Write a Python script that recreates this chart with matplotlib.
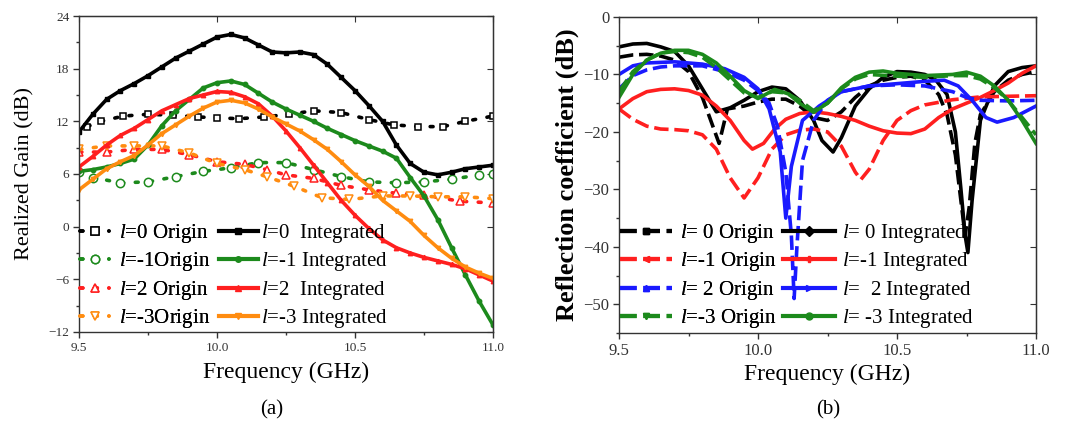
import matplotlib
matplotlib.use("Agg")
import matplotlib.pyplot as plt
from matplotlib.lines import Line2D
from matplotlib.ticker import MultipleLocator, FormatStrFormatter

plt.rcParams["font.family"] = ["Liberation Serif", "DejaVu Serif"]
plt.rcParams["mathtext.fontset"] = "custom"
plt.rcParams["mathtext.it"] = "Liberation Serif:italic"
plt.rcParams["mathtext.rm"] = "Liberation Serif"

# ---------------- (a) realized gain ----------------
f_int = [9.5, 9.55, 9.6, 9.65, 9.7, 9.75, 9.8, 9.85, 9.9, 9.95, 10.0, 10.05, 10.1, 10.15, 10.2,
         10.25, 10.3, 10.35, 10.4, 10.45, 10.5, 10.55, 10.6, 10.65, 10.7, 10.75, 10.8, 10.85,
         10.9, 10.95, 11.0]
gain_int_l0 = [10.8, 12.8, 14.5, 15.5, 16.3, 17.2, 18.2, 19.2, 20.0, 20.8, 21.6, 21.9, 21.5, 20.7,
               19.9, 19.8, 19.9, 19.6, 18.5, 17.0, 15.5, 13.8, 12.0, 9.3, 7.2, 6.2, 5.9, 6.2, 6.6,
               6.8, 7.0]
gain_int_lm1 = [6.3, 6.5, 6.8, 7.2, 7.7, 9.3, 11.5, 13.2, 14.5, 15.8, 16.4, 16.6, 16.2, 15.2, 14.2,
                13.4, 12.7, 12.0, 11.2, 10.5, 9.8, 9.2, 8.6, 7.8, 5.6, 3.5, 0.8, -2.4, -5.5, -8.5,
                -11.2]
gain_int_l2 = [6.8, 8.0, 9.3, 10.4, 11.2, 12.2, 13.2, 13.9, 14.6, 15.0, 15.4, 15.3, 14.8, 14.0, 12.6,
               10.9, 9.0, 7.0, 5.0, 3.0, 1.3, -0.2, -1.5, -2.4, -3.0, -3.5, -3.9, -4.3, -4.8, -5.5,
               -6.2]
gain_int_lm3 = [4.2, 5.4, 6.6, 7.4, 8.1, 9.3, 10.6, 11.6, 12.6, 13.5, 14.2, 14.4, 14.1, 13.4, 12.5,
                11.7, 10.9, 9.9, 8.8, 7.4, 5.9, 4.6, 3.0, 1.8, 0.6, -1.0, -2.4, -3.6, -4.6, -5.3,
                -5.9]

f_org_l0 = [9.53, 9.58, 9.66, 9.75, 9.84, 9.93, 10.0, 10.08, 10.17, 10.26, 10.35, 10.45, 10.55,
            10.64, 10.73, 10.82, 10.9, 11.0]
gain_org_l0 = [11.4, 12.0, 12.6, 12.8, 12.7, 12.5, 12.4, 12.3, 12.5, 12.8, 13.2, 13.0, 12.2, 11.6,
               11.4, 11.4, 12.0, 12.6]
f_org_lm1 = [9.5, 9.55, 9.65, 9.75, 9.85, 9.95, 10.05, 10.15, 10.25, 10.35, 10.45, 10.55, 10.65,
             10.75, 10.85, 10.95, 11.0]
gain_org_lm1 = [6.2, 5.6, 5.0, 5.1, 5.7, 6.3, 6.7, 7.3, 7.3, 6.5, 5.7, 5.1, 5.0, 5.1, 5.4, 5.9, 6.0]
f_org_l2 = [9.5, 9.6, 9.7, 9.8, 9.9, 10.0, 10.1, 10.18, 10.25, 10.35, 10.45, 10.55, 10.65, 10.75,
            10.88, 11.0]
gain_org_l2 = [8.5, 8.5, 8.8, 8.8, 8.2, 7.4, 7.1, 6.5, 5.9, 5.5, 4.7, 4.2, 3.8, 3.6, 2.9, 2.7]
f_org_lm3 = [9.5, 9.6, 9.7, 9.8, 9.9, 10.0, 10.1, 10.18, 10.28, 10.38, 10.48, 10.6, 10.7, 10.8,
             10.9, 11.0]
gain_org_lm3 = [8.8, 9.2, 9.2, 9.2, 8.4, 7.2, 6.5, 5.7, 4.6, 3.3, 3.1, 3.5, 3.5, 3.4, 3.4, 3.2]

# ---------------- (b) reflection coefficient ----------------
f_s_org_l0 = [9.5, 9.55, 9.6, 9.65, 9.7, 9.75, 9.8, 9.83, 9.86, 9.89, 9.95, 10.0, 10.05, 10.1, 10.15,
              10.2, 10.25, 10.3, 10.35, 10.4, 10.45, 10.5, 10.55, 10.6, 10.65, 10.68, 10.71, 10.73,
              10.745, 10.76, 10.78, 10.8, 10.85, 10.9, 10.95, 11.0]
s_org_l0 = [-7.0, -6.6, -6.5, -6.8, -7.5, -9.5, -14, -18, -22, -16, -15.5, -14.8, -14.3, -14.3, -15.5,
            -17.5, -18, -16.5, -14, -12, -11, -10.5, -10.3, -11, -13.5, -17, -24, -32, -38, -33, -22,
            -17, -13, -11, -10, -9.5]
f_s_int_l0 = [9.5, 9.55, 9.6, 9.65, 9.7, 9.75, 9.8, 9.85, 9.9, 9.95, 10.0, 10.05, 10.1, 10.15, 10.2,
              10.23, 10.27, 10.3, 10.35, 10.4, 10.45, 10.5, 10.55, 10.6, 10.64, 10.68, 10.71, 10.73,
              10.745, 10.755, 10.77, 10.8, 10.85, 10.9, 10.95, 11.0]
s_int_l0 = [-5.2, -4.7, -4.6, -5.2, -6.0, -8.5, -12.5, -16.5, -15.8, -14.5, -13, -12.2, -12.5, -14.5,
            -18, -21.5, -23.5, -21, -15.5, -12.5, -10.5, -9.5, -9.6, -10, -11, -13.5, -20, -30, -38,
            -41, -32, -18, -12, -9.5, -8.8, -8.5]

f_s_org_lm1 = [9.5, 9.55, 9.6, 9.65, 9.7, 9.75, 9.8, 9.85, 9.9, 9.95, 10.0, 10.05, 10.1, 10.15, 10.2,
               10.25, 10.3, 10.35, 10.37, 10.4, 10.45, 10.5, 10.55, 10.6, 10.7, 10.8, 10.9, 11.0]
s_org_lm1 = [-16, -17.8, -19, -19.5, -19.6, -19.8, -20.5, -23, -28, -31.5, -28, -23, -20.5, -19.7,
             -19.5, -20, -22.5, -27, -28.3, -26.5, -21.5, -18, -16.3, -15.3, -14.4, -13.9, -13.8,
             -13.7]
f_s_int_lm1 = [9.5, 9.55, 9.6, 9.65, 9.7, 9.75, 9.8, 9.85, 9.9, 9.95, 9.98, 10.02, 10.06, 10.1, 10.15,
               10.2, 10.25, 10.3, 10.35, 10.4, 10.45, 10.5, 10.55, 10.6, 10.65, 10.7, 10.75, 10.8,
               10.85, 10.9, 10.95, 11.0]
s_int_lm1 = [-16, -14.2, -13, -12.6, -12.5, -12.8, -13.6, -15.5, -18, -21.5, -23, -22, -19.5, -17.8,
             -16.8, -16.5, -16.8, -17.3, -18, -19, -19.8, -20.2, -20.3, -19.5, -17.5, -16, -15, -14,
             -12.8, -11.5, -9.8, -8.5]

f_s_org_l2 = [9.5, 9.55, 9.6, 9.65, 9.7, 9.8, 9.88, 9.95, 10.0, 10.04, 10.07, 10.1, 10.12, 10.13,
              10.14, 10.16, 10.2, 10.25, 10.3, 10.4, 10.5, 10.6, 10.7, 10.75, 10.8, 10.9, 11.0]
s_org_l2 = [-12.5, -10.2, -9.2, -8.7, -8.5, -8.5, -9.5, -11, -12.8, -15, -19, -27, -38, -49, -40, -25,
            -18, -14.5, -13, -12, -11.8, -12, -13, -14, -14.5, -14.6, -14.5]
f_s_int_l2 = [9.5, 9.55, 9.6, 9.7, 9.8, 9.88, 9.95, 10.0, 10.04, 10.08, 10.1, 10.12, 10.16, 10.22,
              10.3, 10.4, 10.5, 10.6, 10.67, 10.72, 10.77, 10.82, 10.86, 10.92, 11.0]
s_int_l2 = [-10, -8.5, -8, -7.8, -8.2, -9, -10.5, -12.5, -16, -23.5, -35, -26, -18, -15.5, -13, -12,
            -11.6, -11.2, -11, -12, -14.5, -17.5, -18.3, -17.5, -15.5]

f_s_org_lm3 = [9.5, 9.55, 9.6, 9.65, 9.7, 9.75, 9.8, 9.85, 9.9, 9.95, 10.0, 10.05, 10.1, 10.15, 10.2,
               10.25, 10.3, 10.35, 10.4, 10.5, 10.6, 10.7, 10.75, 10.8, 10.85, 10.9, 10.95, 11.0]
s_org_lm3 = [-13, -9.5, -7.5, -6.3, -6, -6.2, -7, -8.8, -11, -13.2, -14, -13, -13.2, -14.5, -16.3,
             -15, -12.5, -10.8, -10, -10.3, -10.5, -10.2, -10.2, -10.8, -12.3, -14.5, -17.5, -20.5]
f_s_int_lm3 = [9.5, 9.55, 9.6, 9.65, 9.7, 9.75, 9.8, 9.85, 9.9, 9.95, 10.0, 10.06, 10.11, 10.15,
               10.2, 10.25, 10.3, 10.35, 10.4, 10.45, 10.5, 10.6, 10.7, 10.75, 10.8, 10.85, 10.9,
               10.95, 11.0]
s_int_lm3 = [-14, -10, -7.5, -6.3, -5.8, -5.8, -6.5, -8, -10.3, -12.8, -14.2, -12.6, -13.4, -15,
             -16.6, -15, -12.3, -10.5, -9.6, -9.4, -9.8, -10.2, -10, -9.6, -10.3, -12, -14.5, -18,
             -22]

BLACK, GREEN, RED, ORANGE, BLUE = "black", "#1c8a1c", "#ff1f1f", "#ff8c10", "#1a1aff"
W, H = 1079, 437


def style_axes(ax, xmin, xmax, ymin, ymax, ymaj, ymin_step, tick_fs):
    ax.set_xlim(xmin, xmax)
    ax.set_ylim(ymin, ymax)
    ax.xaxis.set_major_locator(MultipleLocator(0.5))
    ax.xaxis.set_minor_locator(MultipleLocator(0.25))
    ax.xaxis.set_major_formatter(FormatStrFormatter("%.1f"))
    ax.yaxis.set_major_locator(MultipleLocator(ymaj))
    ax.yaxis.set_minor_locator(MultipleLocator(ymin_step))
    ax.tick_params(which="major", direction="out", length=4, width=1,
                   labelsize=tick_fs, colors="#333333", pad=3)
    ax.tick_params(which="minor", direction="out", length=2, width=1, colors="#333333")
    for s in ax.spines.values():
        s.set_linewidth(1.0)
        s.set_color("#333333")
    # inward ticks on the top and right frame
    top = ax.secondary_xaxis("top")
    top.xaxis.set_major_locator(MultipleLocator(0.5))
    top.tick_params(direction="in", length=4, labeltop=False, colors="#333333")
    right = ax.secondary_yaxis("right")
    right.yaxis.set_major_locator(MultipleLocator(ymaj))
    right.tick_params(direction="in", length=4, labelright=False, colors="#333333")


fig = plt.figure(figsize=(W / 100, H / 100), dpi=100)
ax1 = fig.add_axes([79 / W, 1 - 332 / H, 414 / W, 316 / H])
ax2 = fig.add_axes([619 / W, 1 - 333 / H, 417 / W, 316 / H])

# --- (a) ---
org_kw = dict(linestyle=(0, (0.8, 3.2)), linewidth=2.6, dash_capstyle="round",
              markersize=6, markerfacecolor="white", markeredgewidth=1.1)
ax1.plot(f_org_l0, gain_org_l0, color=BLACK, marker="s", markersize=5,
         **{k: v for k, v in org_kw.items() if k != "markersize"})
ax1.plot(f_org_lm1, gain_org_lm1, color=GREEN, marker="o", **org_kw)
ax1.plot(f_org_l2, gain_org_l2, color=RED, marker="^", **org_kw)
ax1.plot(f_org_lm3, gain_org_lm3, color=ORANGE, marker="v", **org_kw)

int_kw = dict(linewidth=2.6, markersize=3.2)
ax1.plot(f_int, gain_int_l0, color=BLACK, marker="s", **int_kw)
ax1.plot(f_int, gain_int_lm1, color=GREEN, marker="o", **int_kw)
ax1.plot(f_int, gain_int_l2, color=RED, marker="^", **int_kw)
ax1.plot(f_int, gain_int_lm3, color=ORANGE, marker="v", **int_kw)

style_axes(ax1, 9.5, 11.0, -12, 24, 6, 3, 9.5)
ax1.set_xlabel("Frequency (GHz)", fontsize=17, labelpad=6)
ax1.set_ylabel("Realized Gain (dB)", fontsize=16, labelpad=10)

leg_fs = 15
h_org_a = [Line2D([], [], color=c, marker=m, **org_kw) for c, m in
           [(BLACK, "s"), (GREEN, "o"), (RED, "^"), (ORANGE, "v")]]
lab_org_a = [r"$l$=0 Origin", r"$l$=-1Origin", r"$l$=2 Origin", r"$l$=-3Origin"]
h_int_a = [Line2D([], [], color=c, marker=m, linewidth=3, markersize=4) for c, m in
           [(BLACK, "s"), (GREEN, "o"), (RED, "^"), (ORANGE, "v")]]
lab_int_a = [r"$l$=0  Integrated", r"$l$=-1 Integrated", r"$l$=2  Integrated",
             r"$l$=-3 Integrated"]
leg_y = 1 - 222 / H
lg1 = fig.legend(h_org_a, lab_org_a, loc="upper left", bbox_to_anchor=(80 / W, leg_y),
                 frameon=False, fontsize=leg_fs, handlelength=1.4, handletextpad=0.45,
                 labelspacing=0.26, borderpad=0, borderaxespad=0, numpoints=1)
lg2 = fig.legend(h_int_a, lab_int_a, loc="upper left", bbox_to_anchor=(219 / W, leg_y),
                 frameon=False, fontsize=leg_fs, handlelength=1.85, handletextpad=0.15,
                 labelspacing=0.26, borderpad=0, borderaxespad=0)
fig.add_artist(lg1)

# --- (b) ---
dash_kw = dict(linestyle=(0, (4, 1.6)), linewidth=2.6)
solid_kw = dict(linestyle="-", linewidth=2.6)
ax2.plot(f_s_org_l0, s_org_l0, color=BLACK, **dash_kw)
ax2.plot(f_s_int_l0, s_int_l0, color=BLACK, **solid_kw)
ax2.plot(f_s_org_lm1, s_org_lm1, color=RED, **dash_kw)
ax2.plot(f_s_int_lm1, s_int_lm1, color=RED, **solid_kw)
ax2.plot(f_s_org_l2, s_org_l2, color=BLUE, **dash_kw)
ax2.plot(f_s_int_l2, s_int_l2, color=BLUE, **solid_kw)
ax2.plot(f_s_org_lm3, s_org_lm3, color=GREEN, **dash_kw)
ax2.plot(f_s_int_lm3, s_int_lm3, color=GREEN, **solid_kw)

style_axes(ax2, 9.5, 11.0, -55, 0, 10, 5, 12)
ax2.set_xlabel("Frequency (GHz)", fontsize=17, labelpad=4)
ax2.set_ylabel("Reflection coefficient (dB)", fontsize=19, fontweight="bold", labelpad=3)

h_org_b = [Line2D([], [], color=c, marker=m, markersize=5, linestyle=(0, (4, 1.6)), linewidth=3)
           for c, m in [(BLACK, "s"), (RED, "<"), (BLUE, "^"), (GREEN, "v")]]
lab_org_b = [r"$l$= 0 Origin", r"$l$=-1 Origin", r"$l$= 2 Origin", r"$l$=-3 Origin"]
h_int_b = [Line2D([], [], color=c, marker=m, markersize=5, linewidth=3)
           for c, m in [(BLACK, "D"), (RED, "P"), (BLUE, ">"), (GREEN, "o")]]
lab_int_b = [r"$l$= 0 Integrated", r"$l$=-1 Integrated", r"$l$=  2 Integrated",
             r"$l$= -3 Integrated"]
lg3 = fig.legend(h_org_b, lab_org_b, loc="upper left", bbox_to_anchor=(620 / W, leg_y),
                 frameon=False, fontsize=leg_fs, handlelength=2.5, handletextpad=0.4,
                 labelspacing=0.26, borderpad=0, borderaxespad=0)
lg4 = fig.legend(h_int_b, lab_int_b, loc="upper left", bbox_to_anchor=(783 / W, leg_y),
                 frameon=False, fontsize=leg_fs, handlelength=2.5, handletextpad=0.35,
                 labelspacing=0.26, borderpad=0, borderaxespad=0)
fig.add_artist(lg3)

fig.text(272 / W, 1 - 410 / H, "(a)", fontsize=15, ha="center", va="center")
fig.text(828 / W, 1 - 410 / H, "(b)", fontsize=15, ha="center", va="center")

fig.savefig("out.png", dpi=100)
